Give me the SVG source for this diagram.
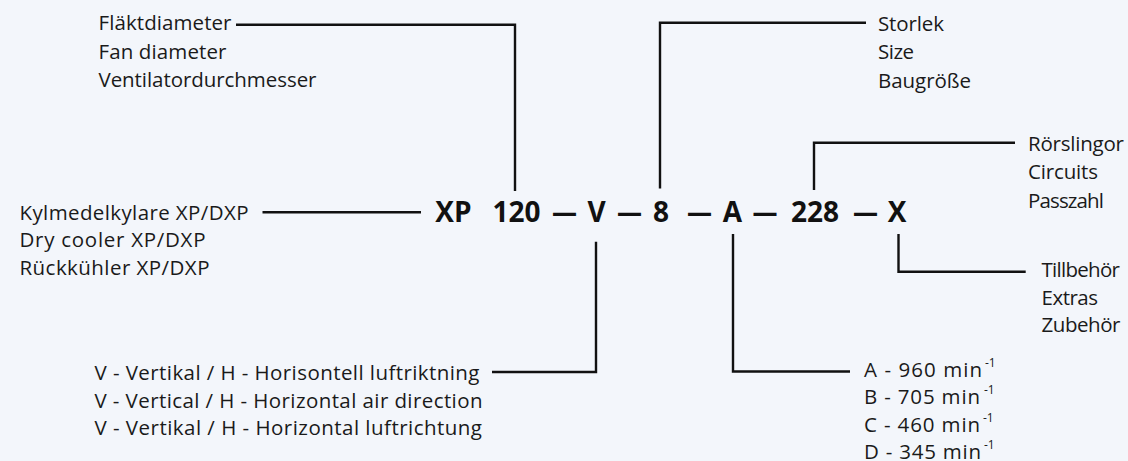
<svg xmlns="http://www.w3.org/2000/svg" width="1128" height="461" viewBox="0 0 1128 461">
<style>
.lbl{font-family:"Open Sans","Liberation Sans",sans-serif;font-size:20.5px;fill:#1a1a1a}
.lbl text{}
.code{font-family:"Open Sans","Liberation Sans",sans-serif;font-size:28px;font-weight:700;fill:#111;text-anchor:middle}
.sup{font-size:12px}
.conn path{fill:none;stroke:#111;stroke-width:2.4}
</style>
<rect width="1128" height="461" fill="#f3f6fb"/>
<g id="connectors" class="conn">
<path d="M236 24.7H515V191"/>
<path d="M866 22.7H660V188.5"/>
<path d="M262.5 212.3H421"/>
<path d="M1015 142.7H814V190"/>
<path d="M898.5 234V271.7H1025.7"/>
<path d="M596 241.7V372H492"/>
<path d="M733 234V371.5H850"/>
</g>
<g id="code">
<text class="code" x="453.5" y="222">XP</text>
<text class="code" x="516.5" y="222">120</text>
<text class="code" x="564.5" y="222" textLength="25" lengthAdjust="spacingAndGlyphs">—</text>
<text class="code" x="596.5" y="222">V</text>
<text class="code" x="629.5" y="222" textLength="25" lengthAdjust="spacingAndGlyphs">—</text>
<text class="code" x="661" y="222">8</text>
<text class="code" x="699.5" y="222" textLength="25" lengthAdjust="spacingAndGlyphs">—</text>
<text class="code" x="732.5" y="222">A</text>
<text class="code" x="765" y="222" textLength="25" lengthAdjust="spacingAndGlyphs">—</text>
<text class="code" x="815" y="222">228</text>
<text class="code" x="865.5" y="222" textLength="25" lengthAdjust="spacingAndGlyphs">—</text>
<text class="code" x="897" y="222">X</text>
</g>
<g id="fan-diameter" class="lbl">
<text x="98.5" y="30" textLength="133" lengthAdjust="spacing">Fläktdiameter</text>
<text x="98.5" y="58.5" textLength="128" lengthAdjust="spacing">Fan diameter</text>
<text x="98.5" y="86.5" textLength="218" lengthAdjust="spacing">Ventilatordurchmesser</text>
</g>
<g id="size" class="lbl">
<text x="878" y="30.5" textLength="66" lengthAdjust="spacing">Storlek</text>
<text x="878" y="59" textLength="36" lengthAdjust="spacing">Size</text>
<text x="878" y="87.5" textLength="93" lengthAdjust="spacing">Baugröße</text>
</g>
<g id="product" class="lbl">
<text x="19.5" y="219.5" textLength="229" lengthAdjust="spacing">Kylmedelkylare XP/DXP</text>
<text x="19.5" y="247" textLength="186" lengthAdjust="spacing">Dry cooler XP/DXP</text>
<text x="19.5" y="274.5" textLength="190" lengthAdjust="spacing">Rückkühler XP/DXP</text>
</g>
<g id="circuits" class="lbl">
<text x="1028" y="150.5" textLength="96" lengthAdjust="spacing">Rörslingor</text>
<text x="1028" y="179" textLength="70" lengthAdjust="spacing">Circuits</text>
<text x="1028" y="207.5" textLength="76" lengthAdjust="spacing">Passzahl</text>
</g>
<g id="extras" class="lbl">
<text x="1041.5" y="276.5" textLength="78.5" lengthAdjust="spacing">Tillbehör</text>
<text x="1041.5" y="304.5" textLength="56.5" lengthAdjust="spacing">Extras</text>
<text x="1041.5" y="331.5" textLength="79" lengthAdjust="spacing">Zubehör</text>
</g>
<g id="air-direction" class="lbl">
<text x="94.5" y="380" textLength="385" lengthAdjust="spacing">V - Vertikal / H - Horisontell luftriktning</text>
<text x="94.5" y="407.5" textLength="388" lengthAdjust="spacing">V - Vertical / H - Horizontal air direction</text>
<text x="94.5" y="435" textLength="387.5" lengthAdjust="spacing">V - Vertikal / H - Horizontal luftrichtung</text>
</g>
<g id="fan-speed" class="lbl">
<text x="864" y="377" textLength="118" lengthAdjust="spacing">A - 960 min</text>
<text class="sup" x="985" y="367">-1</text>
<text x="864" y="404" textLength="116" lengthAdjust="spacing">B - 705 min</text>
<text class="sup" x="984" y="394">-1</text>
<text x="864" y="431.5" textLength="116" lengthAdjust="spacing">C - 460 min</text>
<text class="sup" x="983" y="421.5">-1</text>
<text x="864" y="458.5" textLength="117" lengthAdjust="spacing">D - 345 min</text>
<text class="sup" x="984" y="448.5">-1</text>
</g>
</svg>
